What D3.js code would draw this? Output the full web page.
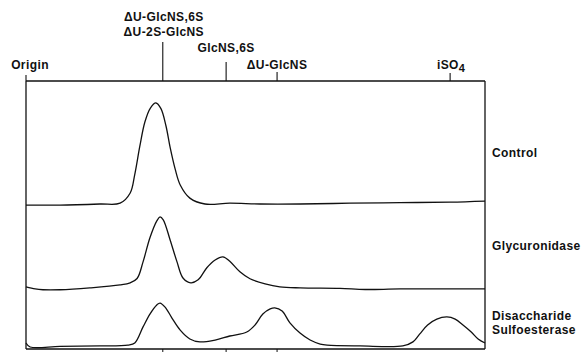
<!DOCTYPE html>
<html>
<head>
<meta charset="utf-8">
<script src="https://cdn.jsdelivr.net/npm/d3@7"></script>
<style>
  html, body { margin: 0; padding: 0; background: #fff; }
  svg text { font-family: "Liberation Sans", Arial, Helvetica, sans-serif; font-weight: bold; font-size: 12px; letter-spacing: 0.4px; fill: #111; }
</style>
</head>
<body>
<svg id="chart" width="585" height="352"></svg>
<script>
// Migration distance from origin (arbitrary units, 0 = origin, 100 = end of strip)
const controlX = [0, 7.4, 16.1, 20.5, 22.7, 23.7, 24.8, 25.9, 27.1, 28.3, 29.4, 30.5, 31.4, 32.5, 33.6, 35.7, 39.0, 44.4, 51.0, 59.7, 70.6, 81.5, 92.4, 100];
const controlY = [0, 0, 0.4, 0.7, 4.5, 11.5, 22.0, 31.0, 36.2, 38.1, 36.0, 29.5, 21.5, 13.4, 7.5, 2.6, 0.4, 0.7, 0.4, 0.4, 0.7, 0.9, 1.1, 1.5];

const glycX = [0, 2.0, 3.7, 7.4, 13.9, 20.5, 22.7, 24.2, 25.5, 27.0, 28.5, 29.2, 29.9, 31.4, 32.9, 34.2, 35.9, 37.5, 39.4, 41.2, 42.9, 44.4, 46.6, 48.8, 52.1, 55.3, 59.7, 68.4, 73.9, 81.5, 100];
const glycY = [0.4, -0.4, -0.7, -0.7, 0, 1.1, 1.9, 3.5, 9.7, 18.7, 25.0, 26.5, 25.4, 17.9, 9.7, 3.7, 1.9, 3.0, 7.5, 10.4, 11.6, 9.9, 6.0, 3.4, 1.5, 0.4, 0, -0.2, -0.6, -0.4, -0.4];

const sulfoX = [0, 0.9, 7.4, 16.1, 22.2, 23.7, 25.5, 27.0, 28.5, 29.2, 30.3, 31.8, 33.6, 35.7, 37.9, 41.2, 44.4, 48.1, 49.9, 51.6, 53.2, 54.2, 55.8, 57.5, 59.7, 61.9, 64.1, 65.6, 72.8, 82.1, 84.3, 85.8, 87.5, 89.5, 91.7, 93.5, 95.2, 97.0, 98.5, 100];
const sulfoY = [1.5, 0, 0.2, 0.4, 0.7, 1.5, 7.5, 12.3, 15.7, 16.4, 14.9, 10.8, 6.3, 3.0, 1.9, 2.6, 4.1, 5.6, 8.2, 12.3, 14.2, 14.6, 13.4, 9.0, 5.2, 2.6, 1.1, 0.7, 0.4, 0.4, 1.9, 4.9, 8.2, 10.4, 11.2, 10.4, 8.2, 5.6, 3.0, 1.5];

const seriesNames = ["Control", "Glycuronidase", ["Disaccharide", "Sulfoesterase"]];
const seriesOffsets = [53.7, 22.8, 0.75];

// Standards marked along the top
const markerLabels = [["Origin"], ["\u0394U-GlcNS,6S", "\u0394U-2S-GlcNS"], ["GlcNS,6S"], ["\u0394U-GlcNS"], ["iSO", "4"]];
const markerPos = [0, 29.8, 43.6, 54.7, 92.4];

const svg = d3.select("#chart");
const mLeft = 26, mRight = 485, mTop = 81, mBottom = 349;
const x = d3.scaleLinear().domain([0, 100]).range([mLeft, mRight]);
const y = d3.scaleLinear().domain([0, 100]).range([mBottom, mTop]);

// Frame
const frame = svg.append("g").attr("stroke", "#111").attr("stroke-width", 1.3).attr("fill", "none");
frame.append("line").attr("x1", x(0)).attr("x2", x(100)).attr("y1", y(100)).attr("y2", y(100));
frame.append("line").attr("x1", x(0)).attr("x2", x(100)).attr("y1", y(0)).attr("y2", y(0));
frame.append("line").attr("x1", x(0)).attr("x2", x(0)).attr("y1", y(100)).attr("y2", y(0));
frame.append("line").attr("x1", x(100)).attr("x2", x(100)).attr("y1", y(100)).attr("y2", y(0));

// Marker ticks (upward from top line) and labels
const tickLen = [6, 39, 19, 9, 8];
const labelBase = [[69], [21, 36], [52], [69], [69]];
markerPos.forEach((p, i) => {
  svg.append("line").attr("x1", x(p)).attr("x2", x(p))
    .attr("y1", y(100)).attr("y2", y(100) - tickLen[i])
    .attr("stroke", "#111").attr("stroke-width", 1.1);
  if (i > 0 && i < 4) {
    svg.append("line").attr("x1", x(p)).attr("x2", x(p))
      .attr("y1", y(0)).attr("y2", y(0) + 3)
      .attr("stroke", "#111").attr("stroke-width", 1);
  }
});
svg.append("text").attr("x", x(markerPos[0]) + 4).attr("y", labelBase[0][0]).attr("text-anchor", "middle").text(markerLabels[0][0]);
markerLabels[1].forEach((t, j) => {
  svg.append("text").attr("x", x(markerPos[1]) + 1).attr("y", labelBase[1][j]).attr("text-anchor", "middle").text(t);
});
svg.append("text").attr("x", x(markerPos[2])).attr("y", labelBase[2][0]).attr("text-anchor", "middle").text(markerLabels[2][0]);
svg.append("text").attr("x", x(markerPos[3])).attr("y", labelBase[3][0]).attr("text-anchor", "middle").text(markerLabels[3][0]);
const iso = svg.append("text").attr("x", x(markerPos[4]) + 1).attr("y", labelBase[4][0]).attr("text-anchor", "middle");
iso.append("tspan").text(markerLabels[4][0]);
iso.append("tspan").attr("dy", 3).attr("font-size", "11px").text(markerLabels[4][1]);

// Traces
const line = d3.line().x(d => x(d[0])).y(d => y(d[1])).curve(d3.curveCatmullRom.alpha(0.5));
const traces = [[controlX, controlY], [glycX, glycY], [sulfoX, sulfoY]];
traces.forEach(([xs, ys], i) => {
  const pts = xs.map((v, k) => [v, ys[k] + seriesOffsets[i]]);
  svg.append("path").attr("d", line(pts)).attr("fill", "none")
    .attr("stroke", "#111").attr("stroke-width", 1.3);
});

// Series labels
const labelY = [[157], [250], [320, 334]];
seriesNames.forEach((n, i) => {
  const arr = Array.isArray(n) ? n : [n];
  arr.forEach((t, j) => {
    svg.append("text").attr("x", x(100) + 7).attr("y", labelY[i][j]).text(t);
  });
});
</script>
</body>
</html>
